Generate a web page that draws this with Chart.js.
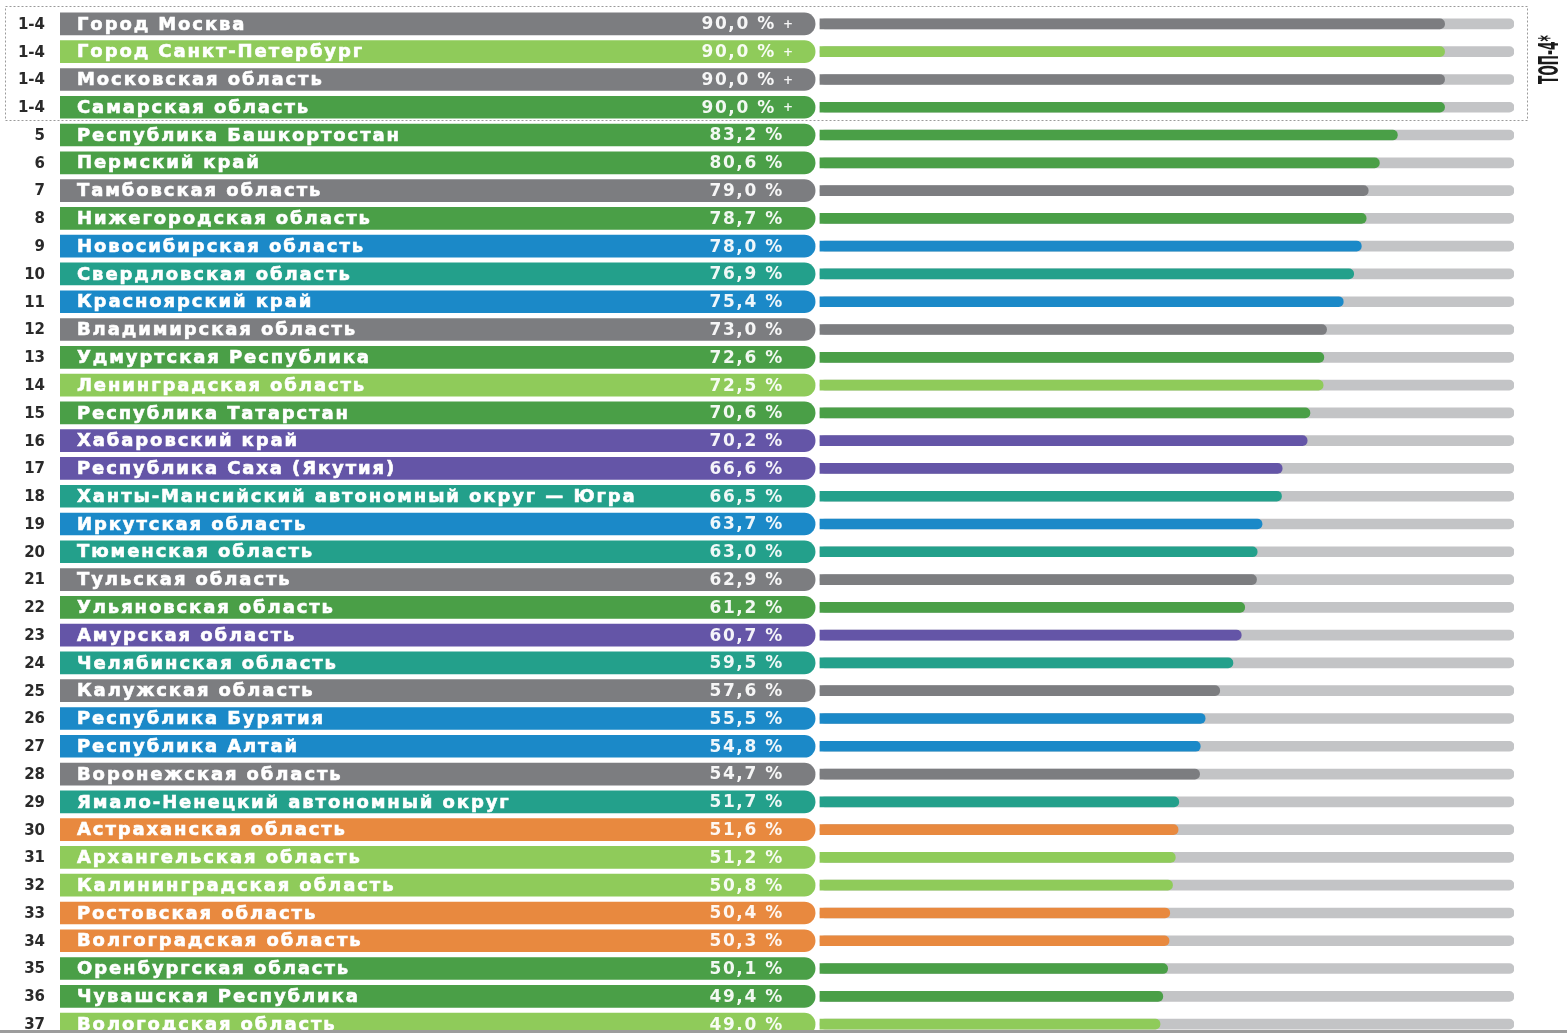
<!DOCTYPE html>
<html><head><meta charset="utf-8">
<script src="https://cdn.jsdelivr.net/npm/chart.js@4.4.1/dist/chart.umd.min.js"></script>
<style>html,body{margin:0;padding:0;background:#fff;overflow:hidden;}#wrap{width:1567px;height:1045px;position:relative}</style>
</head><body><div id="wrap"><canvas id="c" width="1567" height="1045"></canvas></div>
<script>
const ranks = ['1-4','1-4','1-4','1-4','5','6','7','8','9','10','11','12','13','14','15','16','17','18','19','20','21','22','23','24','25','26','27','28','29','30','31','32','33','34','35','36','37'];
const regions = [
 'Город Москва','Город Санкт-Петербург','Московская область','Самарская область',
 'Республика Башкортостан','Пермский край','Тамбовская область','Нижегородская область',
 'Новосибирская область','Свердловская область','Красноярский край','Владимирская область',
 'Удмуртская Республика','Ленинградская область','Республика Татарстан','Хабаровский край',
 'Республика Саха (Якутия)','Ханты-Мансийский автономный округ — Югра','Иркутская область','Тюменская область',
 'Тульская область','Ульяновская область','Амурская область','Челябинская область',
 'Калужская область','Республика Бурятия','Республика Алтай','Воронежская область',
 'Ямало-Ненецкий автономный округ','Астраханская область','Архангельская область','Калининградская область',
 'Ростовская область','Волгоградская область','Оренбургская область','Чувашская Республика','Вологодская область'];
const values = [90.0,90.0,90.0,90.0,83.2,80.6,79.0,78.7,78.0,76.9,75.4,73.0,72.6,72.5,70.6,70.2,66.6,66.5,63.7,63.0,62.9,61.2,60.7,59.5,57.6,55.5,54.8,54.7,51.7,51.6,51.2,50.8,50.4,50.3,50.1,49.4,49.0];
const groups = ['grey','lgreen','grey','dgreen','dgreen','dgreen','grey','dgreen','blue','teal','blue','grey','dgreen','lgreen','dgreen','purple','purple','teal','blue','teal','grey','dgreen','purple','teal','grey','blue','blue','grey','teal','orange','lgreen','lgreen','orange','orange','dgreen','dgreen','lgreen'];
const topLabel = 'ТОП-4*';

const PALETTE = {grey:'#7c7d80', lgreen:'#8fcb5a', dgreen:'#4a9f47', blue:'#1b89c8', teal:'#23a08b', purple:'#6455a7', orange:'#e8893f'};
const TRACK = '#c3c4c6';
const colors = groups.map(g => PALETTE[g]);
const LBL_FROM = -109.5, LBL_TO = -0.7;

const textPlugin = {
  id:'texts',
  afterDatasetsDraw(chart){
    const c = chart.ctx, y = chart.scales.y;
    c.save();
    // dotted box around top 4
    c.strokeStyle = '#9a9a9a'; c.lineWidth = 1; c.setLineDash([2,2]);
    const t = y.getPixelForValue(0) - 18, b = y.getPixelForValue(3) + 12.5;
    c.strokeRect(5.5, Math.round(t)+0.5, 1522, Math.round(b - t));
    c.setLineDash([]);
    regions.forEach((name, i) => {
      const py = y.getPixelForValue(i);
      c.textBaseline = 'middle';
      // rank
      c.fillStyle = '#2a2a2a'; c.textAlign = 'right';
      c.font = 'bold 15px "DejaVu Sans"'; c.letterSpacing = '0px';
      c.fillText(ranks[i], 45, py + 1);
      // name
      c.fillStyle = '#ffffff'; c.strokeStyle = '#ffffff'; c.lineWidth = 0.6; c.textAlign = 'left';
      c.font = 'bold 18px "DejaVu Sans"'; c.letterSpacing = '1.9px';
      c.fillText(name, 77, py + 1);
      c.strokeText(name, 77, py + 1);
      // value
      const s = values[i].toFixed(1).replace('.', ',') + ' %';
      c.fillStyle = 'rgba(255,255,255,0.93)'; c.textAlign = 'right';
      c.font = 'bold 17px "DejaVu Sans"'; c.letterSpacing = '1.6px';
      const top = ranks[i].indexOf('-') >= 0;
      c.fillText(s, top ? 776 : 784, py + 1);
      if (top) { c.font = 'bold 12px "DejaVu Sans"'; c.letterSpacing='0px'; c.textAlign='center'; c.fillText('+', 788, py + 1); }
    });
    // TOP-4 vertical label
    c.save();
    const cy = (y.getPixelForValue(0) + y.getPixelForValue(3)) / 2 - 6;
    c.translate(1551, cy); c.rotate(-Math.PI/2); c.scale(0.52, 1);
    c.fillStyle = '#1a1a1a'; c.textAlign = 'center'; c.textBaseline = 'middle';
    c.font = 'bold 26px "DejaVu Sans Condensed", "Liberation Sans Narrow", "DejaVu Sans"'; c.letterSpacing = '0px';
    c.fillText(topLabel, 0, 0);
    c.restore();
    // bottom frame line
    c.fillStyle = '#9c9c9c'; c.fillRect(0, 1030, 1567, 3);
    c.restore();
  }
};

new Chart(document.getElementById('c'), {
  type:'bar',
  data:{ labels: regions, datasets:[
    {label:'track', data: regions.map(() => [0, 100]), backgroundColor: TRACK, barThickness:10, borderRadius:5, borderSkipped:false, grouped:false, order:3},
    {label:'value', data: values, backgroundColor: colors, barThickness:10, borderRadius:5, borderSkipped:'left', grouped:false, order:1},
    {label:'name', data: regions.map(() => [LBL_FROM, LBL_TO]), backgroundColor: colors, barThickness:22,
     borderRadius:{topLeft:0, bottomLeft:0, topRight:11, bottomRight:11}, borderSkipped:false, grouped:false, order:2}
  ]},
  options:{
    indexAxis:'y', responsive:false, animation:false,
    layout:{padding:{left:60, right:53, top:10, bottom:7}},
    plugins:{legend:{display:false}, tooltip:{enabled:false}},
    scales:{
      x:{type:'linear', min:LBL_FROM, max:100, display:false},
      y:{display:false, offset:true, grid:{display:false}}
    }
  },
  plugins:[textPlugin]
});
</script></body></html>
